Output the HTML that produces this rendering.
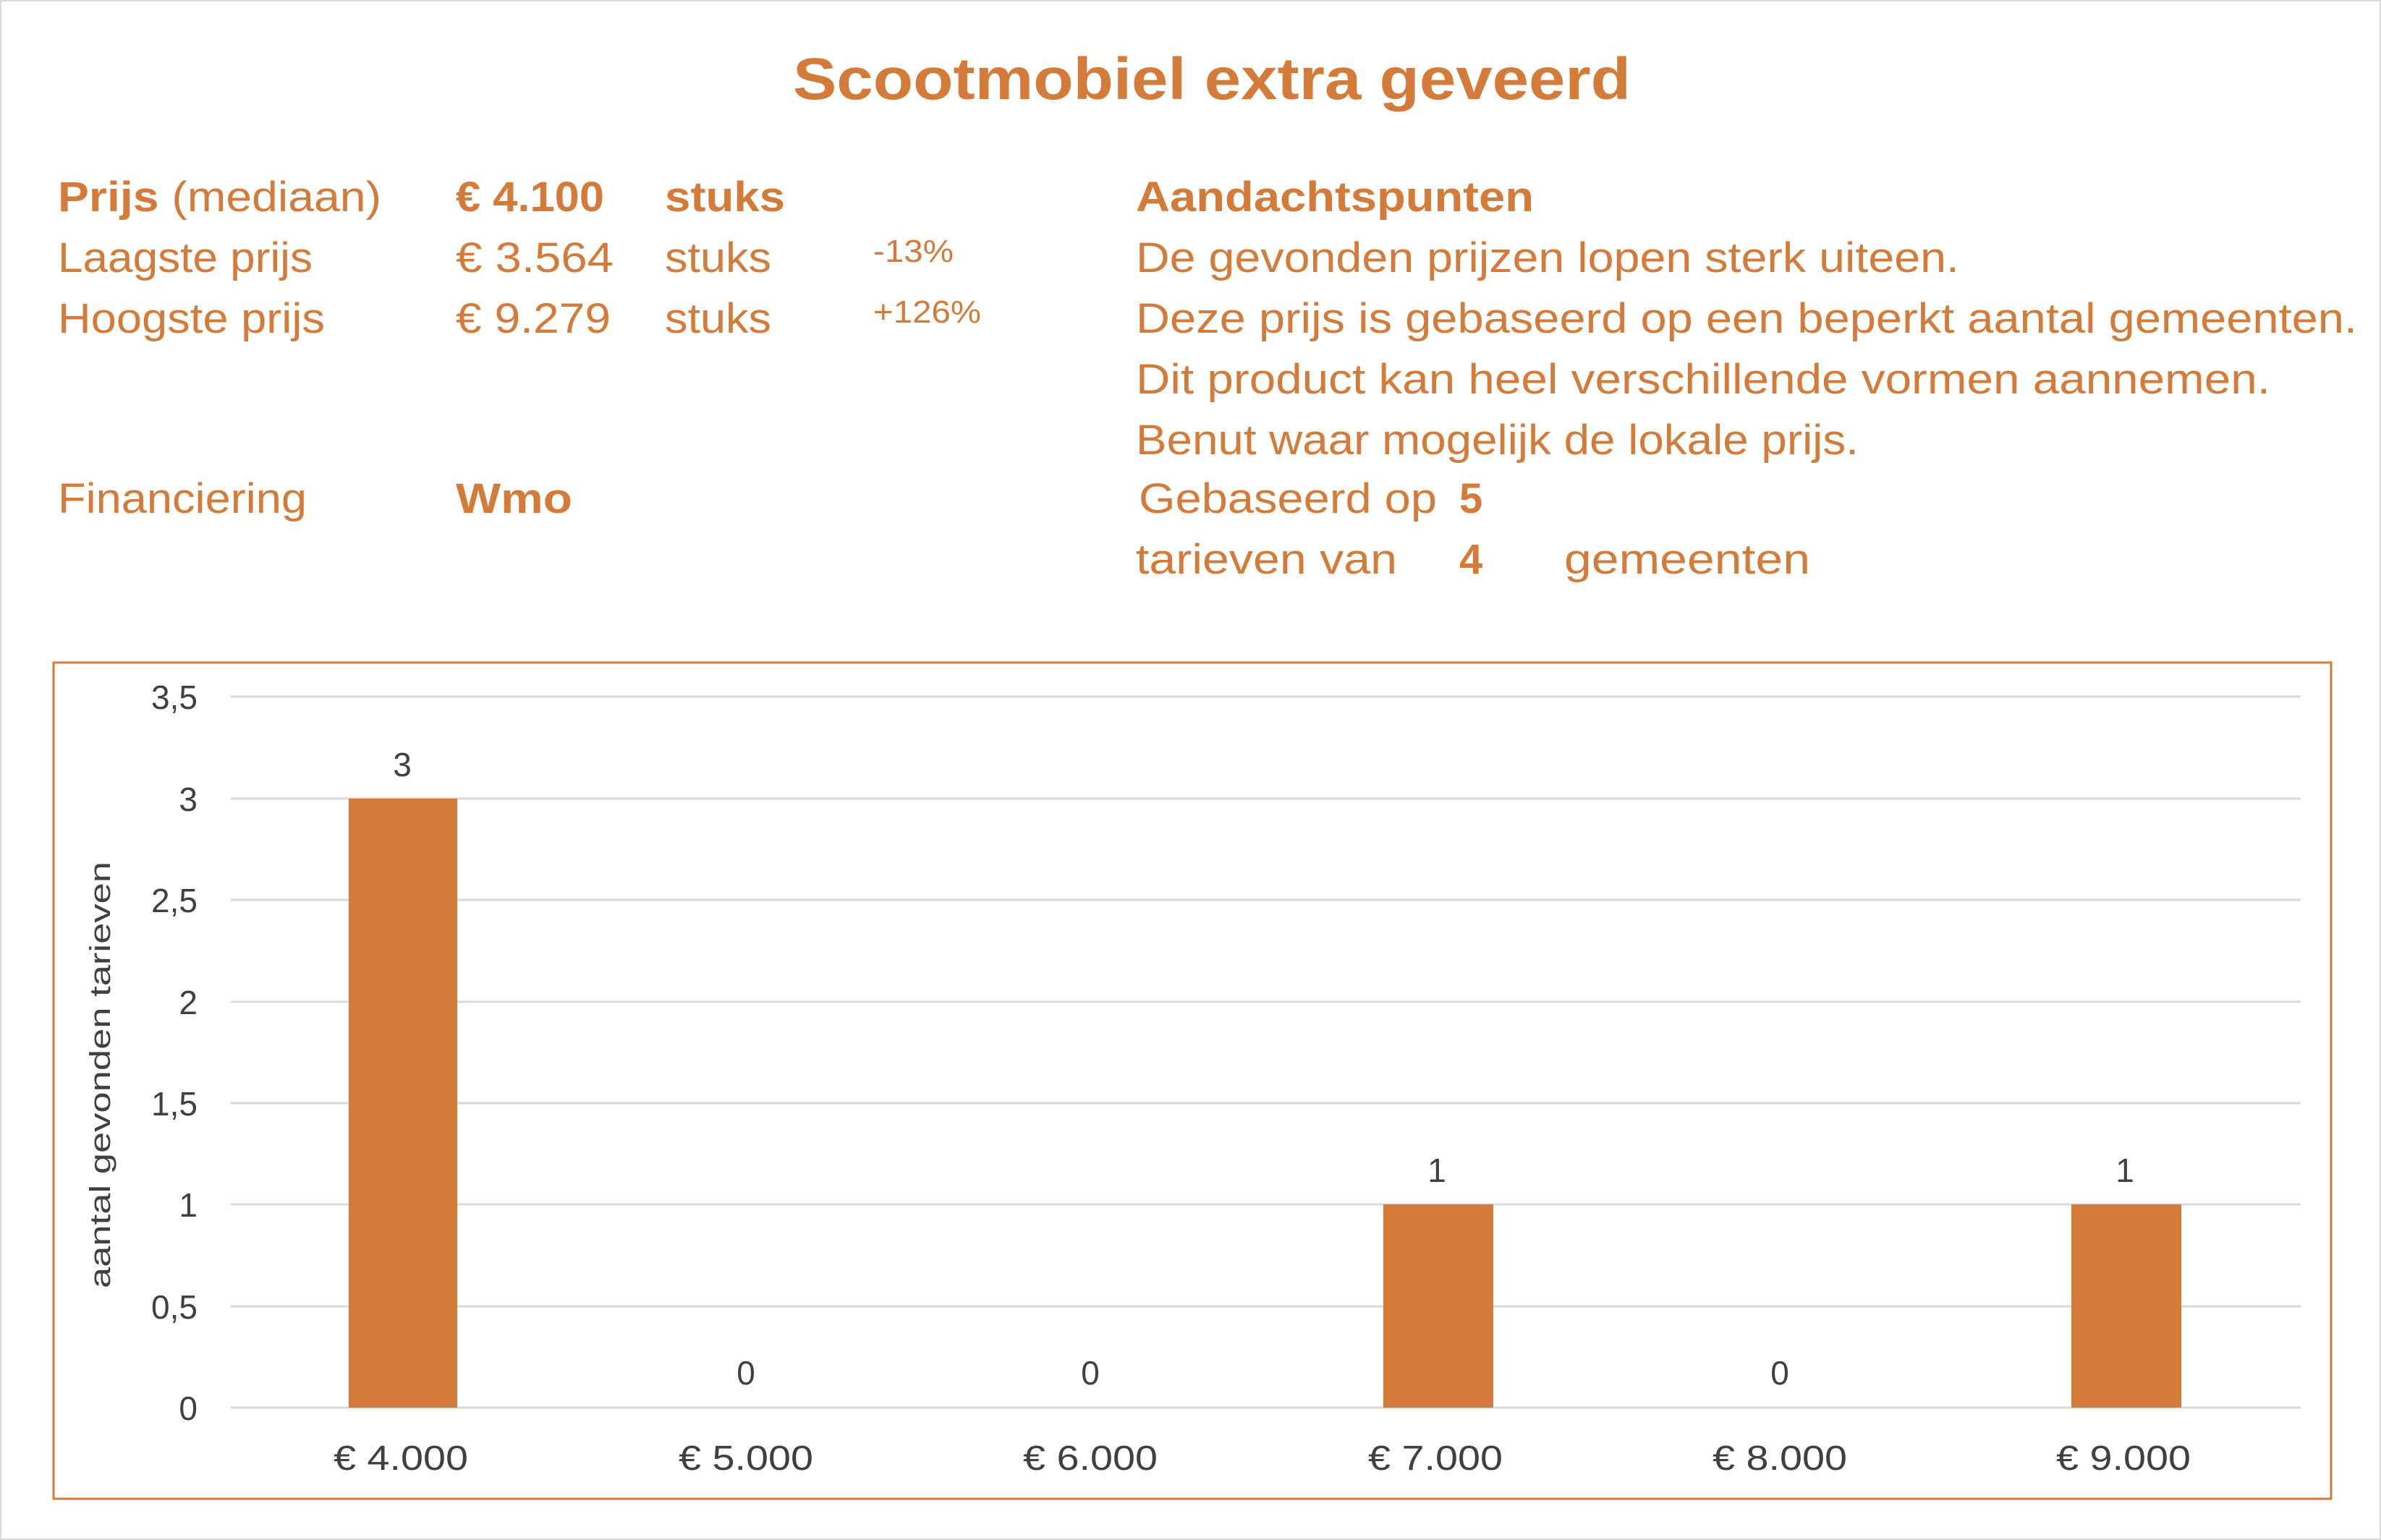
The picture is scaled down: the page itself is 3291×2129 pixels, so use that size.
<!DOCTYPE html>
<html><head><meta charset="utf-8"><style>
html,body{margin:0;padding:0;background:#fff}
svg{display:block}
text{font-family:"Liberation Sans",sans-serif}
</style></head><body>
<svg width="3291" height="2129" viewBox="0 0 3291 2129" xmlns="http://www.w3.org/2000/svg">
<rect x="1" y="1" width="3289" height="2127" fill="#fff" stroke="#d9d9d9" stroke-width="2"/>
<g fill="#D47B3A">
<text x="1096" y="137" font-size="82" font-weight="bold" textLength="1158" lengthAdjust="spacingAndGlyphs">Scootmobiel extra geveerd</text>
<g font-size="58">
<text x="80" y="292" textLength="447" lengthAdjust="spacingAndGlyphs"><tspan font-weight="bold">Prijs</tspan> (mediaan)</text>
<text x="630" y="292" font-weight="bold" textLength="205" lengthAdjust="spacingAndGlyphs">€ 4.100</text>
<text x="919" y="292" font-weight="bold" textLength="166" lengthAdjust="spacingAndGlyphs">stuks</text>
<text x="80" y="376" textLength="352" lengthAdjust="spacingAndGlyphs">Laagste prijs</text>
<text x="630" y="376" textLength="218" lengthAdjust="spacingAndGlyphs">€ 3.564</text>
<text x="919" y="376" textLength="147" lengthAdjust="spacingAndGlyphs">stuks</text>
<text x="80" y="460" textLength="369" lengthAdjust="spacingAndGlyphs">Hoogste prijs</text>
<text x="630" y="460" textLength="214" lengthAdjust="spacingAndGlyphs">€ 9.279</text>
<text x="919" y="460" textLength="147" lengthAdjust="spacingAndGlyphs">stuks</text>
<text x="80" y="709" textLength="344" lengthAdjust="spacingAndGlyphs">Financiering</text>
<text x="630" y="709" font-weight="bold" textLength="161" lengthAdjust="spacingAndGlyphs">Wmo</text>
<text x="1570" y="292" font-weight="bold" textLength="550" lengthAdjust="spacingAndGlyphs">Aandachtspunten</text>
<text x="1570" y="376" textLength="1138" lengthAdjust="spacingAndGlyphs">De gevonden prijzen lopen sterk uiteen.</text>
<text x="1570" y="460" textLength="1688" lengthAdjust="spacingAndGlyphs">Deze prijs is gebaseerd op een beperkt aantal gemeenten.</text>
<text x="1570" y="544" textLength="1568" lengthAdjust="spacingAndGlyphs">Dit product kan heel verschillende vormen aannemen.</text>
<text x="1570" y="628" textLength="999" lengthAdjust="spacingAndGlyphs">Benut waar mogelijk de lokale prijs.</text>
<text x="1574" y="709" textLength="412" lengthAdjust="spacingAndGlyphs">Gebaseerd op</text>
<text x="2017" y="709" font-weight="bold">5</text>
<text x="1570" y="793" textLength="361" lengthAdjust="spacingAndGlyphs">tarieven van</text>
<text x="2017" y="793" font-weight="bold">4</text>
<text x="2162" y="793" textLength="340" lengthAdjust="spacingAndGlyphs">gemeenten</text>
</g>
<g font-size="44">
<text x="1207" y="362" textLength="111" lengthAdjust="spacingAndGlyphs">-13%</text>
<text x="1207" y="446" textLength="149" lengthAdjust="spacingAndGlyphs">+126%</text>
</g>
</g>
<rect x="74" y="916" width="3148" height="1156" fill="none" stroke="#D47B3A" stroke-width="3"/>
<g stroke="#d9d9d9" stroke-width="3">
<line x1="319" x2="3180" y1="963" y2="963"/>
<line x1="319" x2="3180" y1="1104" y2="1104"/>
<line x1="319" x2="3180" y1="1244" y2="1244"/>
<line x1="319" x2="3180" y1="1385" y2="1385"/>
<line x1="319" x2="3180" y1="1525" y2="1525"/>
<line x1="319" x2="3180" y1="1665" y2="1665"/>
<line x1="319" x2="3180" y1="1806" y2="1806"/>
<line x1="319" x2="3180" y1="1946" y2="1946"/>
</g>
<g fill="#D47B3A">
<rect x="482" y="1104" width="150" height="842"/>
<rect x="1912" y="1665" width="152" height="281"/>
<rect x="2863" y="1665" width="152" height="281"/>
</g>
<g font-size="46" fill="#404040" text-anchor="end">
<text x="273" y="980">3,5</text>
<text x="273" y="1121">3</text>
<text x="273" y="1261">2,5</text>
<text x="273" y="1402">2</text>
<text x="273" y="1542">1,5</text>
<text x="273" y="1682">1</text>
<text x="273" y="1823">0,5</text>
<text x="273" y="1963">0</text>
</g>
<g font-size="46" fill="#404040" text-anchor="middle">
<text x="556" y="1073">3</text>
<text x="1031" y="1914">0</text>
<text x="1507" y="1914">0</text>
<text x="1986" y="1634">1</text>
<text x="2460" y="1914">0</text>
<text x="2937" y="1634">1</text>
</g>
<g font-size="48" fill="#404040" text-anchor="middle">
<text x="554" y="2032" textLength="186" lengthAdjust="spacingAndGlyphs">€ 4.000</text>
<text x="1031" y="2032" textLength="186" lengthAdjust="spacingAndGlyphs">€ 5.000</text>
<text x="1507" y="2032" textLength="186" lengthAdjust="spacingAndGlyphs">€ 6.000</text>
<text x="1984" y="2032" textLength="186" lengthAdjust="spacingAndGlyphs">€ 7.000</text>
<text x="2460" y="2032" textLength="186" lengthAdjust="spacingAndGlyphs">€ 8.000</text>
<text x="2935" y="2032" textLength="186" lengthAdjust="spacingAndGlyphs">€ 9.000</text>
<text transform="translate(152,1486) rotate(-90)" font-size="40" textLength="590" lengthAdjust="spacingAndGlyphs">aantal gevonden tarieven</text>
</g>
</svg>
</body></html>
